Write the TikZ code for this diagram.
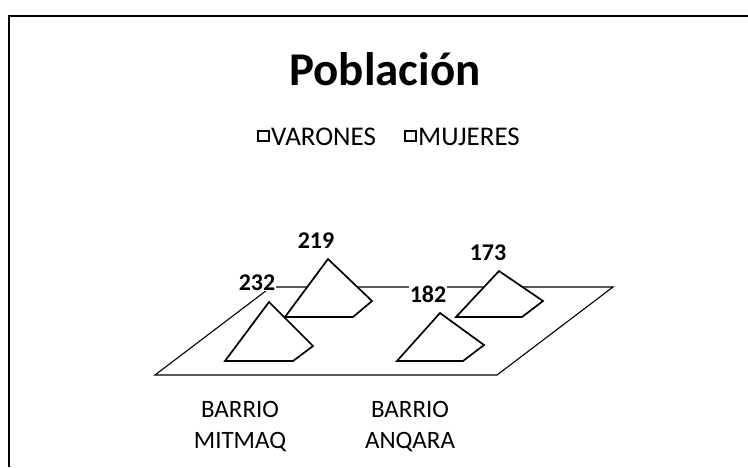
\documentclass[tikz,border=0pt]{standalone}
\usepackage{fontspec}
\setmainfont{Carlito}
\usetikzlibrary{positioning}
\tikzset{
  pyr/.style={draw, fill=white, line width=1.7pt, line join=miter},
  val/.style={fill=white, inner sep=1pt, anchor=base, font=\fontsize{24}{28}\selectfont\bfseries},
  cat/.style={align=center, anchor=base, font=\fontsize{25}{31}\selectfont},
  leg/.style={anchor=base west, inner sep=0pt, font=\fontsize{27}{30}\selectfont}
}

\begin{document}
\begin{tikzpicture}[x=1pt,y=-1pt]
  \useasboundingbox (0,0) rectangle (748,467);
  % frame
  \draw[line width=1.6pt] (9,467) -- (9,16) -- (748,16);
  % title and legend
  \node[anchor=base, font=\fontsize{47}{56}\selectfont\bfseries] (title) at (385,85) {Población};
  \node[leg] (varones) at (271,145) {VARONES};
  \node[leg] (mujeres) at (418,145) {MUJERES};
  \draw[line width=1.5pt] (258,131) rectangle (269,141);
  \draw[line width=1.5pt] (405,131) rectangle (416,141);
  % floor
  \draw[line width=1.1pt] (155,375) -- (497,375) -- (613,287) -- (271,287) -- cycle;
  % pyramids, back ones first
  \draw[pyr] (328,259) -- (372,301) -- (353,317) -- (285,317) -- cycle;
  \draw[pyr] (269,302) -- (313,346) -- (293,361) -- (225,361) -- cycle;
  \draw[pyr] (499,271) -- (543,301) -- (522,317) -- (456,317) -- cycle;
  \draw[pyr] (440,313) -- (484,345) -- (463,361) -- (397,361) -- cycle;
  % values
  \node[val] (v232) at (257,290) {232};
  \node[val] (v219) at (316,248) {219};
  \node[val] (v182) at (428,302) {182};
  \node[val] (v173) at (488,260) {173};
  % categories
  \node[cat] (mitmaq) at (240,448) {BARRIO\\MITMAQ};
  \node[cat] (anqara) at (410,448) {BARRIO\\ANQARA};
\end{tikzpicture}
\end{document}
